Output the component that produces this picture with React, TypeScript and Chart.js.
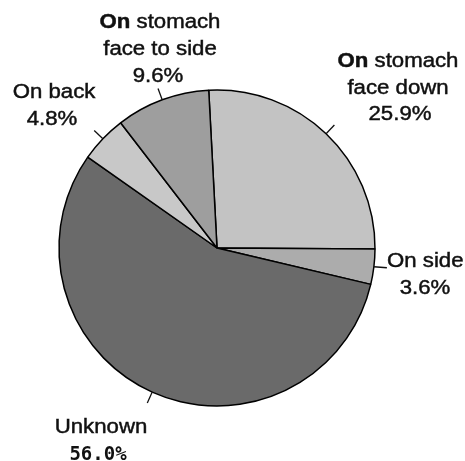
import React, { useEffect, useRef } from "react";
import { Chart, registerables } from "chart.js";

Chart.register(...registerables);

const categories = ["On stomach face down", "On side", "Unknown", "On back", "On stomach face to side"];
const labelLines = [["On stomach", "face down"], ["On side"], ["Unknown"], ["On back"], ["On stomach", "face to side"]];
const values = [25.9, 3.6, 56.0, 4.8, 9.6];
const sliceColors = ["#c3c3c3", "#acacac", "#6a6a6a", "#c8c8c8", "#9e9e9e"];

// label anchor layout: centre x (or left x), first baseline, alignment
const labelLayout = [
  { x: 398, y: 67, align: "center" },
  { x: 387, y: 267, align: "left" },
  { x: 101, y: 433, align: "center" },
  { x: 54, y: 98, align: "center" },
  { x: 160, y: 28, align: "center" },
];

const FONT = "20px 'Liberation Sans', Arial, sans-serif";
const BOLD = "bold 20px 'Liberation Sans', Arial, sans-serif";
const SX = 1.11;
const LINE = 26.5;

function paint(ctx: CanvasRenderingContext2D, t: string, x: number, y: number) {
  ctx.fillText(t, x, y);
  ctx.strokeText(t, x, y);
}

function drawLine(ctx: CanvasRenderingContext2D, text: string, x: number, y: number, align: string) {
  ctx.save();
  ctx.translate(x, y);
  ctx.scale(SX, 1);
  ctx.textBaseline = "alphabetic";
  ctx.lineWidth = 0.45;
  if (text.startsWith("On stomach")) {
    ctx.font = BOLD;
    const w1 = ctx.measureText("On").width;
    ctx.font = FONT;
    const rest = text.slice(2);
    const w2 = ctx.measureText(rest).width;
    const total = w1 + w2;
    const start = align === "center" ? -total / 2 : 0;
    ctx.textAlign = "left";
    ctx.font = BOLD;
    paint(ctx, "On", start, 0);
    ctx.font = FONT;
    paint(ctx, rest, start + w1, 0);
  } else {
    ctx.font = FONT;
    ctx.textAlign = align as CanvasTextAlign;
    paint(ctx, text, 0, 0);
  }
  ctx.restore();
}

const labelPlugin = {
  id: "pieLabels",
  afterDraw(chart: any) {
    const ctx: CanvasRenderingContext2D = chart.ctx;
    const meta = chart.getDatasetMeta(0);
    ctx.save();
    ctx.fillStyle = "#111";
    ctx.strokeStyle = "#111";
    meta.data.forEach((arc: any, i: number) => {
      const p = arc.getProps(["x", "y", "startAngle", "endAngle", "outerRadius"], true);
      const mid = (p.startAngle + p.endAngle) / 2;
      const r = p.outerRadius;
      const x1 = p.x + Math.cos(mid) * r;
      const y1 = p.y + Math.sin(mid) * r;
      let x2, y2;
      if (i === 1) {
        x2 = x1 + 13;
        y2 = y1 + 1;
      } else {
        x2 = p.x + Math.cos(mid) * (r + 12);
        y2 = p.y + Math.sin(mid) * (r + 12);
      }
      ctx.lineWidth = 1.3;
      ctx.beginPath();
      ctx.moveTo(x1, y1);
      ctx.lineTo(x2, y2);
      ctx.stroke();

      const lay = labelLayout[i];
      const lines = labelLines[i];
      lines.forEach((t, k) => drawLine(ctx, t, lay.x, lay.y + k * LINE, lay.align));
      const pct = values[i].toFixed(1) + "%";
      const py = lay.y + lines.length * LINE;
      if (i === 2) {
        ctx.save();
        ctx.font = "bold 19px 'DejaVu Sans Mono', monospace";
        ctx.textAlign = "center";
        ctx.fillText(pct, lay.x - 3, py + 0.5);
        ctx.restore();
      } else if (i === 1) {
        drawLine(ctx, pct, lay.x + 38, py, "center");
      } else {
        drawLine(ctx, pct, lay.x + (i === 0 ? 2 : -2), py + (i === 4 ? 1 : 0), "center");
      }
    });
    ctx.restore();
  },
};

export default function App() {
  const ref = useRef<HTMLCanvasElement | null>(null);
  useEffect(() => {
    if (!ref.current) return;
    const chart = new Chart(ref.current, {
      type: "pie",
      data: {
        labels: categories,
        datasets: [
          {
            data: values,
            backgroundColor: sliceColors,
            borderColor: "#000",
            borderWidth: 1.5,
          },
        ],
      },
      options: {
        animation: false,
        responsive: false,
        rotation: -3,
        radius: 158,
        layout: { padding: { left: 0, right: 31, top: 35, bottom: 0 } },
        plugins: {
          legend: { display: false },
          tooltip: { enabled: false },
        },
      },
      plugins: [labelPlugin],
    });
    return () => chart.destroy();
  }, []);
  return (
    <div style={{ position: "fixed", left: 0, top: 0, width: 465, height: 461, background: "#fff" }}>
      <canvas ref={ref} width={465} height={461} style={{ width: 465, height: 461 }} />
    </div>
  );
}
